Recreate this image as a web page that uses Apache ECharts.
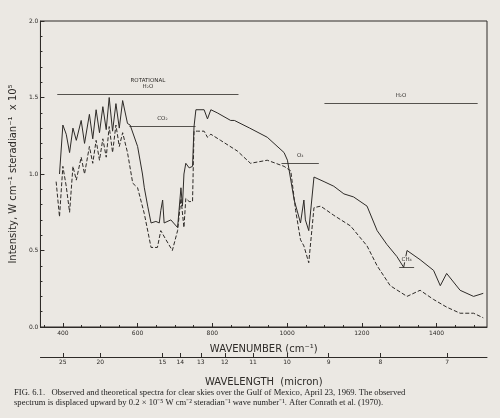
<!DOCTYPE html>
<html><head><meta charset="utf-8">
<script src="https://cdn.jsdelivr.net/npm/echarts@6/dist/echarts.min.js"></script>
<style>html,body{margin:0;padding:0;background:#ebe8e3;}#c{width:500px;height:418px;}</style>
</head><body><div id="c"></div>
<script>
const obsWn = [391,400,409,418,427,436,449,458,471,480,489,498,507,516,524,533,542,551,560,573,580,600,613,618,627,636,649,658,662,667,671,689,707,716,720,724,729,738,747,751,756,778,787,796,813,849,859,900,947,992,1001,1019,1036,1045,1049,1058,1072,1099,1125,1152,1178,1214,1241,1267,1294,1312,1321,1356,1392,1410,1427,1463,1499,1525];
const obsVal = [1.0,1.32,1.26,1.14,1.3,1.22,1.35,1.2,1.39,1.23,1.42,1.27,1.44,1.29,1.5,1.28,1.46,1.3,1.48,1.33,1.32,1.18,1.0,0.91,0.79,0.68,0.69,0.68,0.76,0.83,0.68,0.70,0.65,0.91,0.79,1.0,1.07,1.04,1.05,1.31,1.42,1.42,1.36,1.42,1.40,1.35,1.35,1.30,1.24,1.14,1.09,0.83,0.68,0.83,0.70,0.63,0.98,0.95,0.92,0.87,0.85,0.79,0.63,0.54,0.46,0.39,0.50,0.44,0.37,0.27,0.35,0.24,0.20,0.22];
const thWn = [382,391,400,409,418,427,436,449,458,471,480,489,498,507,516,524,533,542,551,560,573,587,600,618,636,653,662,667,676,693,707,716,724,729,738,747,751,760,778,787,796,822,867,902,947,992,1010,1023,1036,1045,1058,1072,1090,1125,1170,1214,1241,1276,1321,1356,1392,1427,1463,1499,1525];
const thVal = [0.95,0.72,1.05,0.92,0.75,1.05,0.96,1.11,1.0,1.18,1.07,1.22,1.09,1.23,1.11,1.31,1.14,1.32,1.18,1.27,1.14,0.94,0.91,0.74,0.52,0.52,0.63,0.64,0.57,0.50,0.63,0.84,0.65,0.84,0.82,0.82,1.28,1.28,1.28,1.24,1.26,1.22,1.15,1.07,1.09,1.05,1.02,0.76,0.57,0.53,0.42,0.78,0.79,0.73,0.66,0.53,0.40,0.27,0.20,0.24,0.18,0.13,0.09,0.09,0.06];
const wnTicks = [400,600,800,1000,1200,1400];
const lambdaTicks = [25,20,15,14,13,12,11,10,9,8,7];
const brackets = [
 {name:'ROTATIONAL\nH₂O', x0:385, x1:870, y:1.52},
 {name:'CO₂', x0:578, x1:755, y:1.31},
 {name:'H₂O', x0:1100, x1:1510, y:1.46},
 {name:'O₃', x0:985, x1:1085, y:1.07}
];
const zip=(a,b)=>a.map((v,i)=>[v,b[i]]);
const ink='#2e2b28';
const ch=echarts.init(document.getElementById('c'));
const mk = brackets.map(b=>[{coord:[b.x0,b.y],name:b.name},{coord:[b.x1,b.y]}]);
ch.setOption({
 backgroundColor:'#ebe8e3',
 animation:false,
 grid:{left:38,right:13,top:21,bottom:91,show:true,borderColor:ink,borderWidth:1},
 xAxis:[
  {type:'value',min:340,max:1535,position:'bottom',axisLine:{lineStyle:{color:ink}},
   axisTick:{inside:true,length:4,customValues:wnTicks,lineStyle:{color:ink}},
   minorTick:{show:true,splitNumber:4,length:2,lineStyle:{color:ink}},
   splitLine:{show:false},
   axisLabel:{customValues:wnTicks,formatter:v=>String(v),fontSize:6,color:ink,margin:3,fontFamily:'DejaVu Sans'},
   name:'WAVENUMBER (cm⁻¹)',nameLocation:'middle',nameGap:17,nameTextStyle:{fontSize:10,color:ink,fontFamily:'DejaVu Sans'}},
  {type:'value',min:340,max:1535,position:'bottom',offset:30,
   axisLine:{lineStyle:{color:ink}},
   axisTick:{customValues:lambdaTicks.map(l=>10000/l),length:4,inside:true,lineStyle:{color:ink}},
   splitLine:{show:false},
   axisLabel:{customValues:lambdaTicks.map(l=>10000/l),formatter:v=>String(Math.round(10000/v)),fontSize:6,color:ink,margin:2,fontFamily:'DejaVu Sans'},
   name:'WAVELENGTH  (micron)',nameLocation:'middle',nameGap:20,nameTextStyle:{fontSize:10,color:ink,fontFamily:'DejaVu Sans'}}
 ],
 yAxis:{type:'value',min:0,max:2,interval:0.5,axisLine:{show:true,lineStyle:{color:ink}},
  axisTick:{inside:true,length:4,lineStyle:{color:ink}},
  minorTick:{show:true,splitNumber:5,length:2,lineStyle:{color:ink}},
  splitLine:{show:false},
  axisLabel:{fontSize:6,color:ink,margin:2,formatter:v=>v.toFixed(1),fontFamily:'DejaVu Sans'},
  name:'Intensity, W cm⁻¹ steradian⁻¹  x 10⁵',nameLocation:'middle',nameGap:16,nameRotate:90,
  nameTextStyle:{fontSize:10,color:ink,fontFamily:'DejaVu Sans'}},
 series:[
  {name:'OBSERVED',type:'line',data:zip(obsWn,obsVal),symbol:'none',lineStyle:{color:ink,width:1},
   markLine:{symbol:['none','none'],silent:true,lineStyle:{color:ink,type:'solid',width:0.8},
    label:{position:'middle',fontSize:5.5,color:ink,formatter:'{b}',fontFamily:'DejaVu Sans',backgroundColor:'#ebe8e3'},
    data:mk.concat([[{coord:[1300,0.39],name:'CH₄'},{coord:[1340,0.39]}]])},
   markPoint:{symbol:'none',data:[{coord:[905,1.36],label:{show:true,formatter:'OBSERVED',fontSize:5.5,color:ink,offset:[10,-10]}},
     {coord:[850,1.15],label:{show:true,formatter:'THEORETICAL',fontSize:5.5,color:ink,offset:[-22,-6]}}]}},
  {name:'THEORETICAL',type:'line',data:zip(thWn,thVal),symbol:'none',lineStyle:{color:ink,width:1,type:[4,2]}}
 ],
 graphic:[{type:'text',left:14,top:388,style:{text:'FIG. 6.1.   Observed and theoretical spectra for clear skies over the Gulf of Mexico, April 23, 1969. The observed\nspectrum is displaced upward by 0.2 × 10⁻⁵ W cm⁻² steradian⁻¹ wave number⁻¹. After Conrath et al. (1970).',
   font:'8.6px "Liberation Serif"',fill:'#222',lineHeight:10}}]
});
</script></body></html>
